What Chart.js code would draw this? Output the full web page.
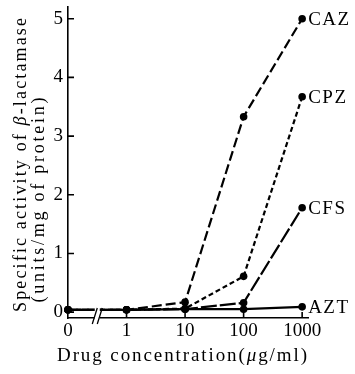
<!DOCTYPE html>
<html>
<head>
<meta charset="utf-8">
<script src="https://cdn.jsdelivr.net/npm/chart.js@4.4.0/dist/chart.umd.min.js"></script>
<style>
  html, body { margin: 0; padding: 0; background: #fff; }
  #wrap { width: 355px; height: 374px; }
</style>
</head>
<body>
<div id="wrap"><canvas id="grafico" width="355" height="374"></canvas></div>
<script>
const xLabels = ['0', '1', '10', '100', '1000'];
const xIndex = [0, 1, 2, 3, 4];
const yTicks = [0, 1, 2, 3, 4, 5];

const seriesNames = ['CAZ', 'CPZ', 'CFS', 'AZT'];
const caz = [0.04, 0.04, 0.17, 3.33, 5.0];
const cpz = [0.04, 0.04, 0.06, 0.61, 3.67];
const cfs = [0.04, 0.04, 0.05, 0.16, 1.78];
const azt = [0.04, 0.04, 0.05, 0.05, 0.09];

const serif = '"Liberation Serif", "DejaVu Serif", serif';

function pontos(valores) {
    return valores.map((v, i) => ({ x: xIndex[i], y: v }));
}

function serie(nome, valores, dash) {
    return {
        label: nome,
        data: pontos(valores),
        borderColor: '#000',
        backgroundColor: '#000',
        borderWidth: 2.2,
        borderDash: dash,
        pointRadius: 3.8,
        pointBorderWidth: 0,
        tension: 0,
        clip: false
    };
}

// draws text char by char so it fills a given length
function textoEspacado(ctx, partes, x, y, comprimento, tamanho) {
    const chars = [];
    partes.forEach(p => {
        for (const c of p.t) chars.push({ c: c, f: (p.i ? 'italic ' : '') + tamanho + 'px ' + serif });
    });
    let total = 0;
    chars.forEach(ch => { ctx.font = ch.f; ch.w = ctx.measureText(ch.c).width; total += ch.w; });
    const extra = (comprimento - total) / (chars.length - 1);
    let pos = x - comprimento / 2;
    chars.forEach(ch => {
        ctx.font = ch.f;
        ctx.fillText(ch.c, pos, y);
        pos += ch.w + extra;
    });
}

const decoracao = {
    id: 'decoracao',
    afterDraw(chart) {
        const ctx = chart.ctx;
        const xs = chart.scales.x;
        const ys = chart.scales.y;
        const area = chart.chartArea;
        ctx.save();
        ctx.strokeStyle = '#000';
        ctx.fillStyle = '#000';
        ctx.lineWidth = 1.6;

        // inner tick marks
        ctx.beginPath();
        yTicks.forEach(t => {
            const py = ys.getPixelForValue(t);
            ctx.moveTo(area.left, py);
            ctx.lineTo(area.left + 6, py);
        });
        xIndex.slice(1).forEach(t => {
            const px = xs.getPixelForValue(t);
            ctx.moveTo(px, area.bottom);
            ctx.lineTo(px, area.bottom - 6);
        });
        ctx.stroke();

        // axis break between 0 and 1
        const bx = xs.getPixelForValue(0.5);
        ctx.fillStyle = '#fff';
        ctx.fillRect(bx - 2.5, area.bottom - 12, 5, 16);
        ctx.lineWidth = 1.3;
        ctx.beginPath();
        [-2.5, 2.5].forEach(d => {
            ctx.moveTo(bx + d - 2.5, area.bottom + 6);
            ctx.lineTo(bx + d + 2.5, area.bottom - 10);
        });
        ctx.stroke();

        // series labels next to the last point
        ctx.fillStyle = '#000';
        ctx.textBaseline = 'middle';
        ctx.textAlign = 'left';
        ctx.font = '19px ' + serif;
        ctx.letterSpacing = '1.5px';
        chart.data.datasets.forEach((ds, i) => {
            const meta = chart.getDatasetMeta(i);
            const p = meta.data[meta.data.length - 1];
            ctx.fillText(ds.label, p.x + 6, p.y + 1);
        });
        ctx.letterSpacing = '0px';

        // axis titles
        ctx.textBaseline = 'alphabetic';
        textoEspacado(ctx, [{ t: 'Drug concentration(' }, { t: 'μ', i: true }, { t: 'g/ml)' }],
            182, 361, 250, 19);

        ctx.save();
        ctx.translate(26, 165);
        ctx.rotate(-Math.PI / 2);
        textoEspacado(ctx, [{ t: 'Specific activity of ' }, { t: 'β', i: true }, { t: '-lactamase' }],
            0, 0, 294, 18);
        ctx.restore();

        ctx.save();
        ctx.translate(44, 200);
        ctx.rotate(-Math.PI / 2);
        textoEspacado(ctx, [{ t: '(units/mg of protein)' }], 0, 0, 205, 18);
        ctx.restore();

        ctx.restore();
    }
};

new Chart(document.getElementById('grafico'), {
    type: 'line',
    data: {
        datasets: [
            serie(seriesNames[0], caz, [10, 4]),
            serie(seriesNames[1], cpz, [5, 3]),
            serie(seriesNames[2], cfs, [16, 3]),
            serie(seriesNames[3], azt, [])
        ]
    },
    options: {
        responsive: false,
        animation: false,
        devicePixelRatio: 1,
        layout: { padding: { top: 7, right: 47, left: 0, bottom: 0 } },
        plugins: { legend: { display: false }, tooltip: { enabled: false } },
        scales: {
            x: {
                type: 'linear',
                min: 0,
                max: 4.1,
                afterBuildTicks: (s) => { s.ticks = xIndex.map(v => ({ value: v })); },
                afterFit: (s) => { s.height = 56; s.paddingLeft = 0; s.paddingRight = 0; },
                grid: { display: false, drawTicks: false, tickLength: 0 },
                border: { display: true, color: '#000', width: 1.6 },
                ticks: {
                    color: '#000',
                    padding: 2,
                    maxRotation: 0,
                    autoSkip: false,
                    font: { family: serif, size: 19 },
                    callback: (v) => xLabels[v]
                }
            },
            y: {
                type: 'linear',
                min: -0.1,
                max: 5.2,
                afterBuildTicks: (s) => { s.ticks = yTicks.map(v => ({ value: v })); },
                afterFit: (s) => { s.width = 68; s.paddingTop = 0; s.paddingBottom = 0; },
                grid: { display: false, drawTicks: false, tickLength: 0 },
                border: { display: true, color: '#000', width: 1.6 },
                ticks: {
                    color: '#000',
                    padding: 5,
                    font: { family: serif, size: 19 },
                    callback: (v) => String(v)
                }
            }
        }
    },
    plugins: [decoracao]
});
</script>
</body>
</html>
